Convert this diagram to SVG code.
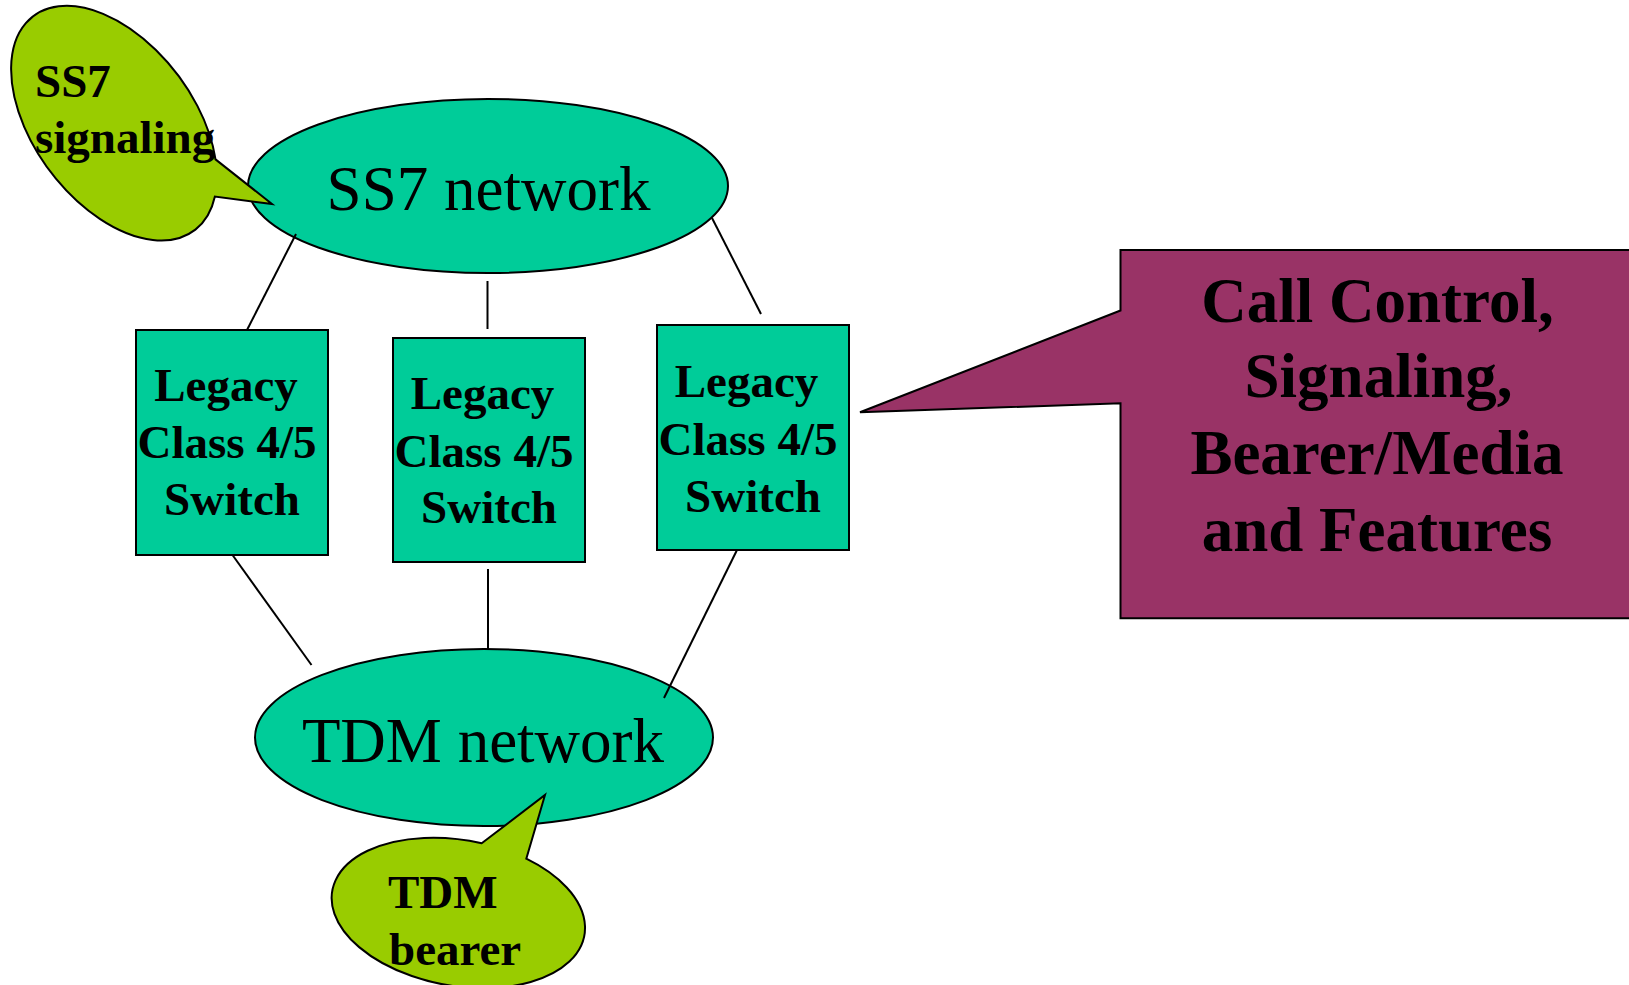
<svg xmlns="http://www.w3.org/2000/svg" width="1629" height="985" viewBox="0 0 1629 985">
<style>
.teal{fill:#00CC99;stroke:#000;stroke-width:2}
.lime{fill:#99CC00;stroke:#000;stroke-width:2;stroke-linejoin:miter}
.purple{fill:#993366;stroke:#000;stroke-width:2}
.conn line{stroke:#000;stroke-width:2}
text{font-family:"Liberation Serif","Times New Roman",serif;fill:#000}
.net{font-size:63px;text-anchor:middle}
.sw{font-size:47px;font-weight:bold;text-anchor:middle}
.call{font-size:47px;font-weight:bold}
.big{font-size:63px;font-weight:bold;text-anchor:middle}
</style>
<rect width="1629" height="985" fill="#fff"/>
<g id="ss7-network">
<ellipse class="teal" cx="488" cy="186" rx="240" ry="87"/>
<text class="net" x="488.5" y="210">SS7 network</text>
</g>
<g id="tdm-network">
<ellipse class="teal" cx="484" cy="737.5" rx="229" ry="88.5"/>
<text class="net" x="483" y="761.5">TDM network</text>
</g>
<g id="switch1">
<rect class="teal" x="136" y="330" width="192" height="225"/>
<text class="sw" x="226" y="400.5">Legacy</text>
<text class="sw" x="227" y="458">Class 4/5</text>
<text class="sw" x="232" y="515">Switch</text>
</g>
<g id="switch2">
<rect class="teal" x="393" y="338" width="192" height="224"/>
<text class="sw" x="482.5" y="409">Legacy</text>
<text class="sw" x="484" y="466.5">Class 4/5</text>
<text class="sw" x="489" y="523">Switch</text>
</g>
<g id="switch3">
<rect class="teal" x="657" y="325" width="192" height="225"/>
<text class="sw" x="746.5" y="397">Legacy</text>
<text class="sw" x="748" y="455">Class 4/5</text>
<text class="sw" x="753" y="511.5">Switch</text>
</g>
<g class="conn" id="connectors">
<line x1="296" y1="234" x2="247" y2="330"/>
<line x1="487.5" y1="281" x2="487.5" y2="329"/>
<line x1="712" y1="218" x2="761" y2="314"/>
<line x1="232.5" y1="555" x2="311.5" y2="665"/>
<line x1="488" y1="569" x2="488" y2="649"/>
<line x1="737" y1="550" x2="664" y2="698"/>
</g>
<g id="ss7-signaling">
<path class="lime" d="M 215.5,159.4 L 272,204 L 214.9,196.5 A 134 80 53 1 1 215.5,159.4 Z"/>
<text class="call" x="35" y="96.5">SS7</text>
<text class="call" x="35" y="153">signaling</text>
</g>
<g id="tdm-bearer">
<path class="lime" d="M 481.7,843.2 L 545,795 L 526.3,858.7 A 128 73 10 1 1 481.7,843.2 Z"/>
<text class="call" x="388" y="908">TDM</text>
<text class="call" x="389" y="965">bearer</text>
</g>
<g id="call-control">
<path class="purple" d="M 1660,250 L 1120.5,250 L 1120.5,310.5 L 860,412.3 L 1120.5,403.3 L 1120.5,618.3 L 1660,618.3 Z"/>
<text class="big" x="1377.5" y="321.5">Call Control,</text>
<text class="big" x="1378.5" y="397">Signaling,</text>
<text class="big" x="1377" y="473.5">Bearer/Media</text>
<text class="big" x="1377" y="551">and Features</text>
</g>
</svg>
